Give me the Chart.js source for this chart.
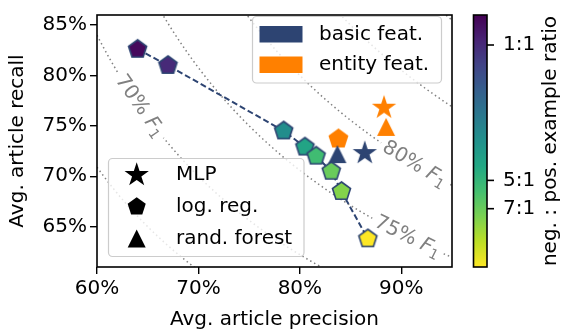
<!DOCTYPE html>
<html>
<head>
<meta charset="utf-8">
<script src="https://cdn.jsdelivr.net/npm/chart.js@4"></script>
<style>
  html, body { margin: 0; padding: 0; background: #fff; }
</style>
</head>
<body>
<canvas id="chart" width="561" height="333"></canvas>
<script>
// log. reg. on basic features, one point per neg:pos training ratio
const lrPrecision = [64.0, 67.0, 78.4, 80.5, 81.6, 83.1, 84.1, 86.7];
const lrRecall    = [82.6, 81.0, 74.5, 72.9, 72.0, 70.5, 68.5, 63.8];
const lrRatio     = [0.75, 1, 3, 4, 5.5, 7, 8, 14];

// single models, [precision, recall]
const basicMlp     = [86.4, 72.3];
const basicForest  = [83.7, 72.2];
const entityMlp    = [88.3, 76.8];
const entityLogReg = [83.8, 73.7];
const entityForest = [88.5, 74.9];

// iso-F1 reference curves and which ones get a label
const f1Levels = [0.65, 0.7, 0.75, 0.8, 0.85, 0.9];
const f1LabelLevels = [0.7, 0.75, 0.8];
const f1LabelPrec   = [64.2, 90.6, 91.3];

const xTicks = [60, 70, 80, 90];
const yTicks = [65, 70, 75, 80, 85];
const ratioMin = 0.7, ratioMax = 14;
const ratioTicks = [1, 5, 7];
const ratioTickLabels = ['1:1', '5:1', '7:1'];

const NAVY = '#2d4472';
const ORANGE = '#ff8000';
const FONT = 'DejaVu Sans';

const viridis = ['#440154', '#482475', '#414487', '#355f8d', '#2a788e', '#21918c',
                 '#22a884', '#44bf70', '#7ad151', '#bddf26', '#fde725'];

function hexRgb(h) {
    return [1, 3, 5].map(i => parseInt(h.substr(i, 2), 16));
}

function ratioColor(r) {
    let t = (Math.log(r) - Math.log(ratioMin)) / (Math.log(ratioMax) - Math.log(ratioMin));
    t = Math.max(0, Math.min(1, t)) * (viridis.length - 1);
    const i = Math.min(Math.floor(t), viridis.length - 2);
    const a = hexRgb(viridis[i]), b = hexRgb(viridis[i + 1]);
    const f = t - i;
    const c = a.map((v, k) => Math.round(v + (b[k] - v) * f));
    return `rgb(${c[0]},${c[1]},${c[2]})`;
}

function shapePath(g, shape, size) {
    g.beginPath();
    if (shape === 'pentagon') {
        for (let k = 0; k < 5; k++) {
            const a = -Math.PI / 2 + k * 2 * Math.PI / 5;
            g.lineTo(size * Math.cos(a), size * Math.sin(a));
        }
    } else if (shape === 'star') {
        for (let k = 0; k < 10; k++) {
            const r = k % 2 ? size * 0.382 : size;
            const a = -Math.PI / 2 + k * Math.PI / 5;
            g.lineTo(r * Math.cos(a), r * Math.sin(a));
        }
    } else {
        g.moveTo(0, -size);
        g.lineTo(size, size);
        g.lineTo(-size, size);
    }
    g.closePath();
}

const SIZES = { pentagon: 9.5, star: 12.8, triangle: 9 };

function marker(shape, fill, edge) {
    const size = SIZES[shape];
    const c = document.createElement('canvas');
    const s = Math.ceil(size * 2 + 6);
    c.width = c.height = s;
    const g = c.getContext('2d');
    g.translate(s / 2, s / 2);
    shapePath(g, shape, size);
    g.fillStyle = fill;
    g.fill();
    if (edge) {
        g.strokeStyle = edge;
        g.lineWidth = 1.6;
        g.stroke();
    }
    return c;
}

function f1Recall(f, p) {
    return f * p / (2 * p / 100 - f);
}

const precSamples = [];
for (let p = 60; p <= 95.001; p += 0.25) precSamples.push(p);

const curveSets = f1Levels.map(f => ({
    data: precSamples.map(p => ({ x: p, y: f1Recall(f, p) })),
    showLine: true,
    borderColor: '#808080',
    borderWidth: 1.5,
    borderDash: [1.5, 3],
    pointRadius: 0,
    order: 10
}));

function point(v) { return [{ x: v[0], y: v[1] }]; }

const datasets = [
    ...curveSets,
    {
        data: lrPrecision.map((p, i) => ({ x: p, y: lrRecall[i] })),
        showLine: true,
        borderColor: NAVY,
        borderWidth: 2,
        borderDash: [6, 3],
        pointRadius: 9,
        pointStyle: lrRatio.map(r => marker('pentagon', ratioColor(r), NAVY)),
        order: 1
    },
    { data: point(basicMlp), pointRadius: 9, pointStyle: marker('star', NAVY), order: 0 },
    { data: point(basicForest), pointRadius: 9, pointStyle: marker('triangle', NAVY), order: 0 },
    { data: point(entityMlp), pointRadius: 9, pointStyle: marker('star', ORANGE), order: 0 },
    { data: point(entityLogReg), pointRadius: 9, pointStyle: marker('pentagon', ORANGE, ORANGE), order: 0 },
    { data: point(entityForest), pointRadius: 9, pointStyle: marker('triangle', ORANGE), order: 0 }
];

function drawF1Labels(chart) {
    const ctx = chart.ctx, xs = chart.scales.x, ys = chart.scales.y;
    const area = chart.chartArea;
    ctx.save();
    ctx.beginPath();
    ctx.rect(area.left, area.top, area.right - area.left, area.bottom - area.top);
    ctx.clip();
    f1LabelLevels.forEach((f, i) => {
        const p = f1LabelPrec[i];
        const px = xs.getPixelForValue(p), py = ys.getPixelForValue(f1Recall(f, p));
        const x1 = xs.getPixelForValue(p - 0.5), y1 = ys.getPixelForValue(f1Recall(f, p - 0.5));
        const x2 = xs.getPixelForValue(p + 0.5), y2 = ys.getPixelForValue(f1Recall(f, p + 0.5));
        const ang = Math.atan2(y2 - y1, x2 - x1);
        const head = Math.round(f * 100) + '% ';
        ctx.save();
        ctx.translate(px, py);
        ctx.rotate(ang);
        ctx.font = `20px "${FONT}"`;
        const w1 = ctx.measureText(head).width;
        ctx.font = `italic 20px "${FONT}"`;
        const w2 = ctx.measureText('F').width;
        ctx.font = `14px "${FONT}"`;
        const w3 = ctx.measureText('1').width;
        const w = w1 + w2 + w3;
        ctx.fillStyle = '#fff';
        ctx.fillRect(-w / 2 - 4, -9, w + 8, 18);
        ctx.fillStyle = '#808080';
        ctx.textBaseline = 'middle';
        ctx.textAlign = 'left';
        ctx.font = `20px "${FONT}"`;
        ctx.fillText(head, -w / 2, 0);
        ctx.font = `italic 20px "${FONT}"`;
        ctx.fillText('F', -w / 2 + w1, 0);
        ctx.font = `14px "${FONT}"`;
        ctx.fillText('1', -w / 2 + w1 + w2, 5);
        ctx.restore();
    });
    ctx.restore();
}

function legendBox(ctx, x, y, w, h) {
    ctx.save();
    ctx.beginPath();
    ctx.roundRect(x, y, w, h, 4);
    ctx.fillStyle = 'rgba(255,255,255,0.8)';
    ctx.fill();
    ctx.strokeStyle = '#cccccc';
    ctx.lineWidth = 1.2;
    ctx.stroke();
    ctx.restore();
}

const extras = {
    id: 'extras',
    afterDatasetDraw(chart, args) {
        if (args.index === 0) drawF1Labels(chart);
    },
    afterDraw(chart) {
        const ctx = chart.ctx, a = chart.chartArea;

        // frame
        ctx.save();
        ctx.strokeStyle = '#000';
        ctx.lineWidth = 1.6;
        ctx.strokeRect(a.left, a.top, a.right - a.left, a.bottom - a.top);
        ctx.restore();

        ctx.save();
        ctx.font = `20px "${FONT}"`;
        ctx.textBaseline = 'middle';
        ctx.textAlign = 'left';

        // feature legend
        legendBox(ctx, 252.5, 16.5, 189, 66.5);
        ctx.fillStyle = NAVY;
        ctx.fillRect(259.5, 26, 43, 16.5);
        ctx.fillStyle = ORANGE;
        ctx.fillRect(259.5, 56.5, 43, 16.5);
        ctx.fillStyle = '#000';
        ctx.fillText('basic feat.', 319, 35);
        ctx.fillText('entity feat.', 319, 65);

        // model legend
        legendBox(ctx, 108.5, 158.5, 195.5, 98);
        const models = [['star', 'MLP'], ['pentagon', 'log. reg.'], ['triangle', 'rand. forest']];
        models.forEach((m, i) => {
            const y = 175 + i * 31.7;
            ctx.save();
            ctx.translate(136.7, y);
            shapePath(ctx, m[0], SIZES[m[0]]);
            ctx.fillStyle = '#000';
            ctx.fill();
            ctx.restore();
            ctx.fillStyle = '#000';
            ctx.fillText(m[1], 176, y);
        });

        // colorbar
        const cb = chart.scales.cb;
        const bx = a.right + 21.5, bw = 13.5;
        for (let y = Math.floor(cb.top); y < cb.bottom; y++) {
            ctx.fillStyle = ratioColor(cb.getValueForPixel(y + 0.5));
            ctx.fillRect(bx, y, bw, 1);
        }
        ctx.strokeStyle = '#000';
        ctx.lineWidth = 1.6;
        ctx.strokeRect(bx, cb.top, bw, cb.bottom - cb.top);
        ratioTicks.forEach((r, i) => {
            const y = cb.getPixelForValue(r);
            ctx.beginPath();
            ctx.moveTo(bx + bw, y);
            ctx.lineTo(bx + bw + 7, y);
            ctx.stroke();
            ctx.fillStyle = '#000';
            ctx.fillText(ratioTickLabels[i], bx + bw + 16, y);
        });
        ctx.translate(551, (cb.top + cb.bottom) / 2);
        ctx.rotate(-Math.PI / 2);
        ctx.textAlign = 'center';
        ctx.fillText('neg. : pos. example ratio', 0, 0);
        ctx.restore();
    }
};

const tickFont = { family: FONT, size: 20 };

new Chart(document.getElementById('chart'), {
    type: 'scatter',
    data: { datasets },
    options: {
        responsive: false,
        animation: false,
        devicePixelRatio: 1,
        layout: { padding: { left: 0, right: 109, top: 7, bottom: 0 } },
        plugins: { legend: { display: false }, tooltip: { enabled: false } },
        scales: {
            x: {
                type: 'linear',
                min: 60,
                max: 95,
                afterBuildTicks: s => { s.ticks = xTicks.map(v => ({ value: v })); },
                afterFit: s => { s.height = 66; },
                border: { display: false },
                grid: { display: true, drawOnChartArea: false, drawTicks: true, tickLength: 7, color: '#000', lineWidth: 1.4 },
                ticks: { font: tickFont, color: '#000', padding: 3, maxRotation: 0, callback: v => v + '%' },
                title: { display: true, text: 'Avg. article precision', font: tickFont, color: '#000', padding: { top: 0, bottom: 1 } }
            },
            y: {
                type: 'linear',
                min: 61,
                max: 86,
                afterBuildTicks: s => { s.ticks = yTicks.map(v => ({ value: v })); },
                afterFit: s => { s.width = 97; },
                border: { display: false },
                grid: { display: true, drawOnChartArea: false, drawTicks: true, tickLength: 7, color: '#000', lineWidth: 1.4 },
                ticks: { font: tickFont, color: '#000', padding: 3, callback: v => v + '%' },
                title: { display: true, text: 'Avg. article recall', font: tickFont, color: '#000', padding: { top: 6, bottom: 0 } }
            },
            cb: {
                type: 'logarithmic',
                position: 'right',
                display: false,
                min: ratioMin,
                max: ratioMax,
                reverse: true
            }
        }
    },
    plugins: [extras]
});
</script>
</body>
</html>
